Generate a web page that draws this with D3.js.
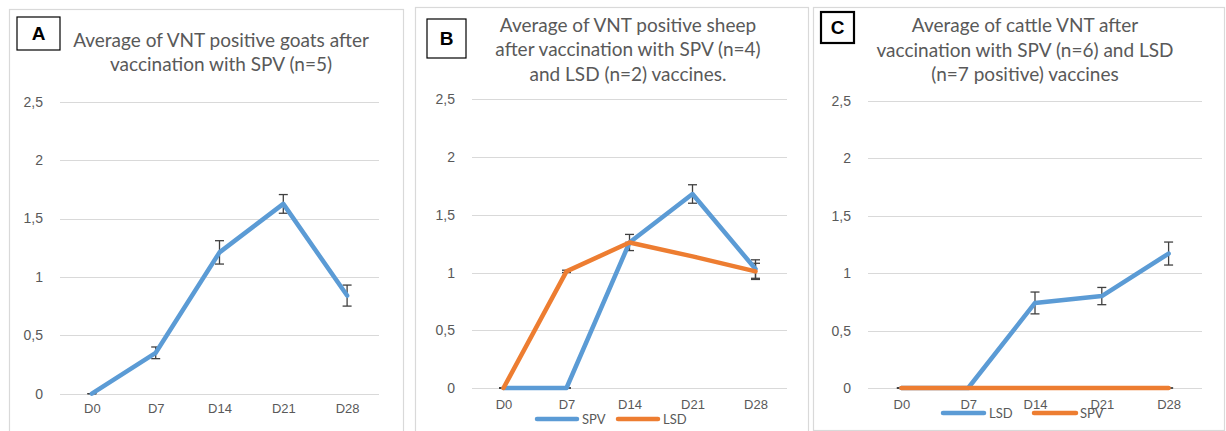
<!DOCTYPE html>
<meta charset="utf-8">
<script src="https://d3js.org/d3.v7.min.js"></script>
<style>
  body { margin: 0; background: #fff; }
  svg { font-family: Lato, "Open Sans", sans-serif; }
  .grid line { stroke: #d9d9d9; stroke-width: 1; }
  .tick text { fill: #595959; font-size: 14px; }
  .title { fill: #595959; font-size: 19px; text-anchor: middle; }
  .leg { fill: #595959; font-size: 13px; }
</style>
<body>
<script>
// categories and ticks
var days = ["D0", "D7", "D14", "D21", "D28"];
var yTicks = [0, 0.5, 1, 1.5, 2, 2.5];

// A - goats
var goatsSPV    = [0, 0.35, 1.21, 1.625, 0.84];
var goatsSPVErr = [0, 0.05, 0.10, 0.08, 0.09];

// B - sheep
var sheepSPV    = [0, 0, 1.26, 1.68, 1.03];
var sheepSPVErr = [0, 0, 0.07, 0.08, 0.08];
var sheepLSD    = [0, 1.01, 1.26, 1.14, 1.01];
var sheepLSDErr = [0, 0.01, 0, 0, 0.07];

// C - cattle
var cattleLSD    = [0, 0, 0.74, 0.80, 1.17];
var cattleLSDErr = [0, 0, 0.095, 0.075, 0.10];
var cattleSPV    = [0, 0, 0, 0, 0];
var cattleSPVErr = [0, 0, 0, 0, 0];

var blue = "#5b9bd5", orange = "#ed7d31";

var panels = [
  { letter: "A", box: [9, 9, 403, 440], x: [60, 379], y: [393.7, 101.7], labY: 412,
    lbox: [17, 17, 43, 33, 1.2],
    title: ["Average of VNT positive goats after", "vaccination with SPV (n=5)"], tx: 221, ty: 46.7,
    series: [{ name: "SPV", v: goatsSPV, e: goatsSPVErr, c: blue }], legend: null },
  { letter: "B", box: [415, 7, 808, 440], x: [472, 787], y: [388, 99.3], labY: 407.7,
    lbox: [427, 19, 39, 39, 1.2],
    title: ["Average of VNT positive sheep", "after vaccination with SPV (n=4)", "and LSD (n=2) vaccines."], tx: 628, ty: 31.7,
    series: [{ name: "SPV", v: sheepSPV, e: sheepSPVErr, c: blue },
             { name: "LSD", v: sheepLSD, e: sheepLSDErr, c: orange }],
    legend: { y: 419, items: [[537, 577, 582], [618, 658, 663]] } },
  { letter: "C", box: [813, 7, 1224, 430], x: [868, 1202], y: [388, 100.7], labY: 407.7,
    lbox: [821, 12, 33, 31, 2.2],
    title: ["Average of cattle VNT after", "vaccination with SPV (n=6) and LSD", "(n=7 positive) vaccines"], tx: 1025, ty: 32,
    series: [{ name: "LSD", v: cattleLSD, e: cattleLSDErr, c: blue },
             { name: "SPV", v: cattleSPV, e: cattleSPVErr, c: orange }],
    legend: { y: 413, items: [[943, 984, 989], [1034, 1076, 1080]] } }
];

var svg = d3.select("body").append("svg")
  .attr("width", 1226)
  .attr("height", 431);

panels.forEach(function(p) {
  var g = svg.append("g");

  // panel frame
  g.append("rect")
    .attr("x", p.box[0] + 0.5).attr("y", p.box[1] + 0.5)
    .attr("width", p.box[2] - p.box[0]).attr("height", p.box[3] - p.box[1])
    .attr("fill", "#fff").attr("stroke", "#d9d9d9").attr("stroke-width", 1.2);

  var x = d3.scalePoint().domain(days).range(p.x).padding(0.5);
  var y = d3.scaleLinear().domain([0, 2.5]).range(p.y);

  // gridlines
  g.append("g").attr("class", "grid")
    .selectAll("line").data(yTicks).enter().append("line")
    .attr("x1", p.x[0]).attr("x2", p.x[1])
    .attr("y1", function(d) { return Math.round(y(d)) + 0.5; })
    .attr("y2", function(d) { return Math.round(y(d)) + 0.5; });

  // y axis
  var ya = g.append("g")
    .attr("transform", "translate(" + (p.x[0] - 14) + ",0)")
    .call(d3.axisLeft(y).tickValues(yTicks).tickSize(0)
      .tickFormat(function(d) { return String(d).replace(".", ","); }));
  ya.select(".domain").remove();

  // x labels
  var xa = g.append("g")
    .attr("transform", "translate(0," + (p.labY - 8) + ")")
    .call(d3.axisBottom(x).tickSize(0));
  xa.select(".domain").remove();
  xa.selectAll(".tick text").attr("dy", "0.71em").attr("y", 0).style("font-size", "13px");

  // error bars
  p.series.forEach(function(s) {
    var eb = g.append("g").attr("stroke", "#404040").attr("stroke-width", 1.3);
    days.forEach(function(d, i) {
      var cx = x(d), hi = y(s.v[i] + s.e[i]), lo = y(s.v[i] - s.e[i]);
      eb.append("line").attr("x1", cx).attr("x2", cx).attr("y1", hi).attr("y2", lo);
      eb.append("line").attr("x1", cx - 4.5).attr("x2", cx + 4.5).attr("y1", hi).attr("y2", hi);
      eb.append("line").attr("x1", cx - 4.5).attr("x2", cx + 4.5).attr("y1", lo).attr("y2", lo);
    });
  });

  // lines
  var line = d3.line()
    .x(function(d, i) { return x(days[i]); })
    .y(function(d) { return y(d); });
  p.series.forEach(function(s) {
    g.append("path")
      .datum(s.v)
      .attr("d", line)
      .attr("fill", "none")
      .attr("stroke", s.c)
      .attr("stroke-width", 4.5)
      .attr("stroke-linejoin", "round")
      .attr("stroke-linecap", "round");
  });

  // title
  p.title.forEach(function(t, i) {
    g.append("text").attr("class", "title")
      .attr("x", p.tx).attr("y", p.ty + i * 24.5)
      .text(t);
  });

  // letter box
  g.append("rect")
    .attr("x", p.lbox[0]).attr("y", p.lbox[1])
    .attr("width", p.lbox[2]).attr("height", p.lbox[3])
    .attr("fill", "#fff").attr("stroke", "#000").attr("stroke-width", p.lbox[4]);
  g.append("text")
    .attr("x", p.lbox[0] + p.lbox[2] / 2)
    .attr("y", p.lbox[1] + p.lbox[3] / 2)
    .attr("dy", "0.36em")
    .attr("text-anchor", "middle")
    .style("font-size", "19px").style("font-weight", "bold").style("fill", "#000")
    .style("font-family", "'Liberation Sans', Arial, sans-serif")
    .text(p.letter);

  // legend
  if (p.legend) {
    p.series.forEach(function(s, i) {
      var it = p.legend.items[i];
      g.append("line")
        .attr("x1", it[0]).attr("x2", it[1])
        .attr("y1", p.legend.y).attr("y2", p.legend.y)
        .attr("stroke", s.c).attr("stroke-width", 4.5).attr("stroke-linecap", "round");
      g.append("text").attr("class", "leg")
        .attr("x", it[2]).attr("y", p.legend.y).attr("dy", "0.36em")
        .text(s.name);
    });
  }
});
</script>
</body>
